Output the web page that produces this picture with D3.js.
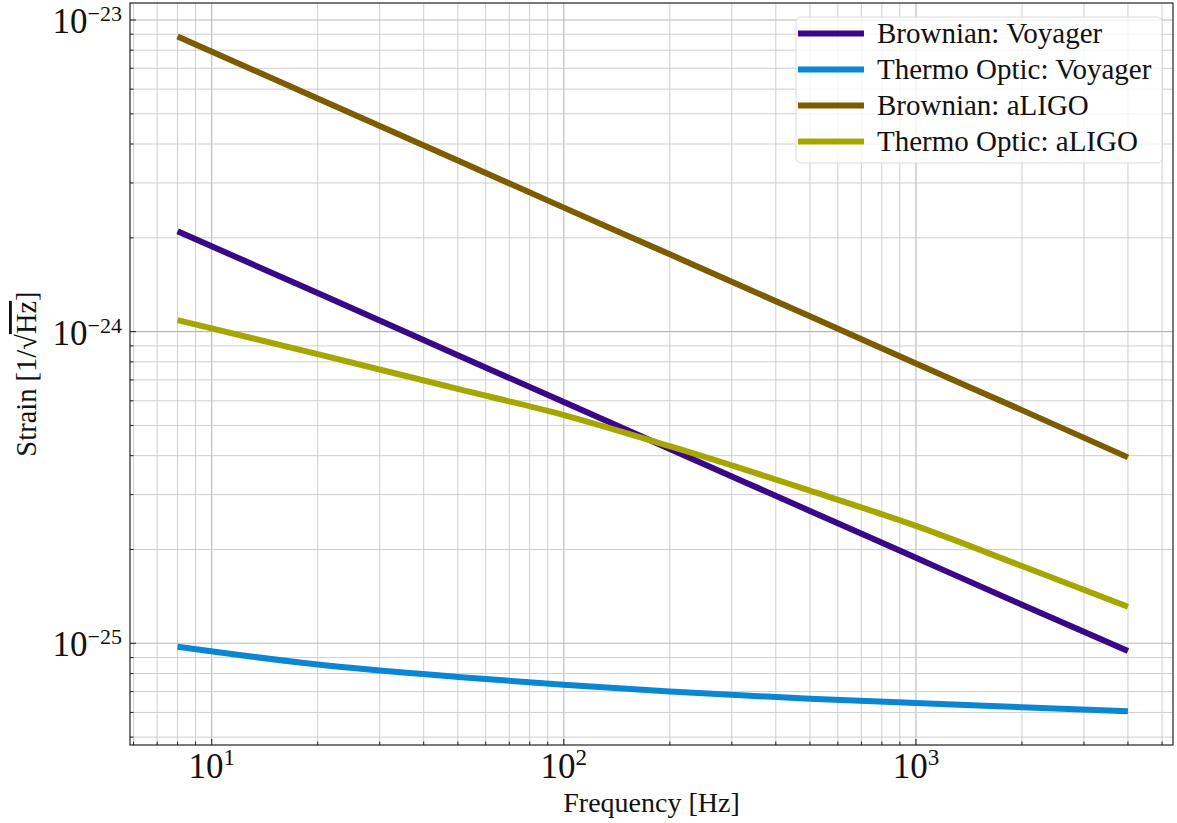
<!DOCTYPE html>
<html>
<head>
<meta charset="utf-8">
<script src="https://cdn.jsdelivr.net/npm/d3@7"></script>
<style>
  html, body { margin: 0; padding: 0; background: #fff; }
  svg { display: block; }
  text { font-family: "Liberation Serif", "Times New Roman", serif; fill: #111; }
</style>
</head>
<body>
<svg id="chart" width="1177" height="823"></svg>
<script>
// ---- Data ----
const freqBV = [8, 20, 50, 100, 200, 500, 1000, 2000, 4000];
const brownianVoyager = [2.10e-24, 1.33e-24, 8.4e-25, 5.95e-25, 4.2e-25, 2.66e-25, 1.88e-25, 1.33e-25, 9.45e-26];

const freqTV = [8, 20, 50, 100, 200, 500, 1000, 2000, 4000];
const thermoVoyager = [9.75e-26, 8.55e-26, 7.80e-26, 7.36e-26, 7.00e-26, 6.64e-26, 6.43e-26, 6.24e-26, 6.05e-26];

const freqBA = [8, 20, 50, 100, 200, 500, 1000, 2000, 4000];
const brownianALIGO = [8.85e-24, 5.6e-24, 3.54e-24, 2.5e-24, 1.77e-24, 1.12e-24, 7.9e-25, 5.6e-25, 3.95e-25];

const freqTA = [8, 20, 50, 100, 200, 500, 1000, 2000, 4000];
const thermoALIGO = [1.089e-24, 8.47e-25, 6.55e-25, 5.40e-25, 4.29e-25, 3.09e-25, 2.38e-25, 1.77e-25, 1.31e-25];

const seriesNames = ["Brownian: Voyager", "Thermo Optic: Voyager", "Brownian: aLIGO", "Thermo Optic: aLIGO"];
const seriesColors = ["#3a0788", "#0a86d2", "#7d5c00", "#a6a600"];

const xMajorExps = [1, 2, 3];
const yMajorExps = [-23, -24, -25];

const xLabel = "Frequency [Hz]";

// ---- Layout ----
const svg = d3.select("#chart");
const L = 130, R = 1173, T = 3, B = 745;

const x = d3.scaleLog().domain([Math.pow(10, 0.768), Math.pow(10, 3.730)]).range([L, R]);
const y = d3.scaleLog().domain([Math.pow(10, -25.3263), Math.pow(10, -22.9455)]).range([B, T]);

function logTicks(lo, hi) {
  const out = [];
  for (let e = Math.floor(Math.log10(lo)); e <= Math.ceil(Math.log10(hi)); e++) {
    for (let m = 1; m <= 9; m++) {
      const v = m * Math.pow(10, e);
      if (v >= lo && v <= hi) out.push({v, major: m === 1});
    }
  }
  return out;
}
const xT = logTicks(x.domain()[0], x.domain()[1]);
const yT = logTicks(y.domain()[0], y.domain()[1]);

const grid = svg.append("g");
grid.selectAll("line.gx").data(xT).enter().append("line")
  .attr("x1", d => x(d.v)).attr("x2", d => x(d.v)).attr("y1", T).attr("y2", B)
  .attr("stroke", d => d.major ? "#b8b8b8" : "#cacaca").attr("stroke-width", d => d.major ? 1.1 : 0.9);
grid.selectAll("line.gy").data(yT).enter().append("line")
  .attr("y1", d => y(d.v)).attr("y2", d => y(d.v)).attr("x1", L).attr("x2", R)
  .attr("stroke", d => d.major ? "#b8b8b8" : "#cacaca").attr("stroke-width", d => d.major ? 1.1 : 0.9);

// Lines
const series = [
  {f: freqBV, v: brownianVoyager},
  {f: freqTV, v: thermoVoyager},
  {f: freqBA, v: brownianALIGO},
  {f: freqTA, v: thermoALIGO}
];
const line = d3.line().x(d => x(d[0])).y(d => y(d[1])).curve(d3.curveMonotoneX);
svg.append("defs").append("clipPath").attr("id", "clip")
  .append("rect").attr("x", L).attr("y", T).attr("width", R - L).attr("height", B - T);
const lines = svg.append("g").attr("clip-path", "url(#clip)");
series.forEach((s, i) => {
  lines.append("path")
    .datum(s.f.map((f, j) => [f, s.v[j]]))
    .attr("d", line)
    .attr("fill", "none")
    .attr("stroke", seriesColors[i])
    .attr("stroke-width", 6)
    .attr("stroke-linecap", "butt")
    .attr("stroke-linejoin", "round");
});

// Ticks (inward, bottom and left)
const ticks = svg.append("g").attr("stroke", "#222");
xT.forEach(d => {
  const len = d.major ? 6 : 3.5;
  ticks.append("line").attr("x1", x(d.v)).attr("x2", x(d.v)).attr("y1", B).attr("y2", B - len).attr("stroke-width", 1);
});
yT.forEach(d => {
  const len = d.major ? 6 : 3.5;
  ticks.append("line").attr("y1", y(d.v)).attr("y2", y(d.v)).attr("x1", L).attr("x2", L + len).attr("stroke-width", 1);
});

// Spines
svg.append("rect").attr("x", L).attr("y", T).attr("width", R - L).attr("height", B - T)
  .attr("fill", "none").attr("stroke", "#222").attr("stroke-width", 1.2);

// X tick labels
xMajorExps.forEach(e => {
  const t = svg.append("text").attr("x", x(Math.pow(10, e))).attr("y", 778)
    .attr("text-anchor", "middle").style("font-size", "35px");
  t.append("tspan").text("10");
  t.append("tspan").attr("dy", -13).style("font-size", "23px").text(String(e));
});

// Y tick labels
yMajorExps.forEach(e => {
  const t = svg.append("text").attr("x", 122).attr("y", y(Math.pow(10, e)) + 13)
    .attr("text-anchor", "end").style("font-size", "35px");
  t.append("tspan").text("10");
  t.append("tspan").attr("dy", -12).style("font-size", "22px").text("\u2212" + String(-e));
});

// Axis labels
svg.append("text").attr("x", (L + R) / 2).attr("y", 812).attr("text-anchor", "middle")
  .style("font-size", "28px").text(xLabel);

const yl = svg.append("text").attr("transform", "translate(36," + ((T + B) / 2) + ") rotate(-90)")
  .attr("text-anchor", "middle").style("font-size", "28.5px");
yl.append("tspan").text("Strain [1/\u221A");
yl.append("tspan").style("text-decoration", "overline").text("Hz");
yl.append("tspan").text("]");

// Legend
const lg = svg.append("g");
lg.append("rect").attr("x", 796).attr("y", 17).attr("width", 366).attr("height", 146)
  .attr("rx", 5).attr("fill", "rgba(255,255,255,0.8)").attr("stroke", "#dcdcdc").attr("stroke-width", 1);
seriesNames.forEach((n, i) => {
  const cy = 33.5 + i * 36;
  lg.append("line").attr("x1", 798).attr("x2", 864).attr("y1", cy).attr("y2", cy)
    .attr("stroke", seriesColors[i]).attr("stroke-width", 6);
  lg.append("text").attr("x", 877).attr("y", cy + 9.5).style("font-size", "29px").text(n);
});
</script>
</body>
</html>
